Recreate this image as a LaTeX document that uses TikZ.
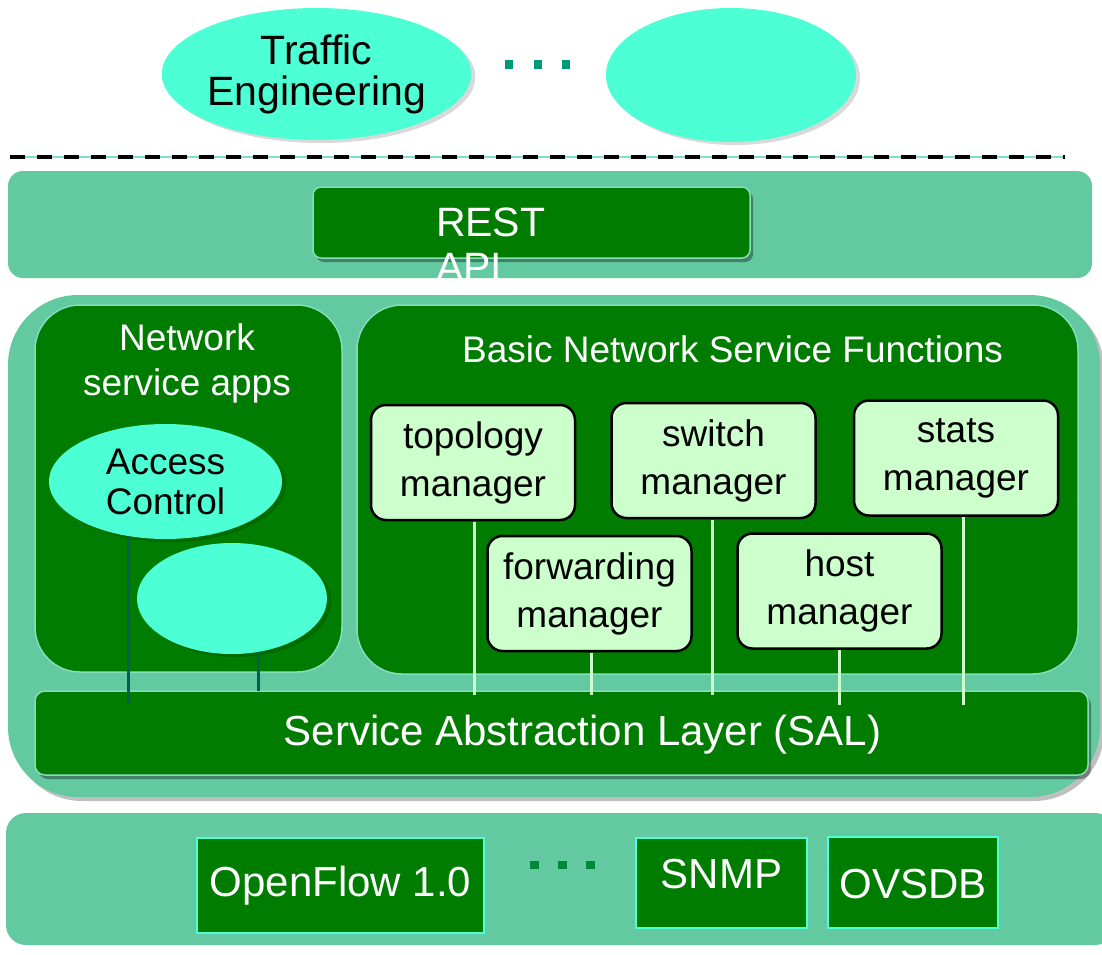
\documentclass[tikz,border=0pt]{standalone}
\usepackage{fontspec}
\setmainfont{Liberation Sans}
\usetikzlibrary{shapes.geometric,shadows,calc}
\definecolor{bandc}{HTML}{62C9A0}
\definecolor{dkgreen}{HTML}{007C00}
\definecolor{aquac}{HTML}{4DFFD4}
\definecolor{ltgreenc}{HTML}{CCFFCC}
\definecolor{lineteal}{HTML}{005F55}
\definecolor{dotteal}{HTML}{009977}
\definecolor{dotgreen}{HTML}{00883A}
\definecolor{edgelight}{HTML}{86DDBA}
\definecolor{dashbase}{HTML}{7FE0C8}
\begin{document}
\begin{tikzpicture}[x=1pt,y=-1pt,
  bandbox/.style={rectangle, fill=bandc, inner sep=0pt, outer sep=0pt},
  panel/.style={rectangle, rounded corners=45pt, fill=dkgreen, draw=edgelight, line width=1.5pt, inner sep=0pt, outer sep=0pt},
  greenbar/.style={rectangle, fill=dkgreen, draw=edgelight, line width=1.5pt, inner sep=0pt, outer sep=0pt,
     drop shadow={shadow xshift=3pt, shadow yshift=-4pt, opacity=0.35, fill=black}},
  appell/.style={ellipse, fill=aquac, inner sep=0pt, outer sep=0pt, align=center,
     drop shadow={shadow xshift=4pt, shadow yshift=-3pt, opacity=0.15, fill=black}},
  mgr/.style={rectangle, rounded corners=15pt, draw=black, line width=2.5pt, fill=ltgreenc,
     minimum width=204pt, minimum height=115pt, inner sep=0pt, outer sep=0pt, align=center,
     font=\fontsize{37}{48}\selectfont},
  mgrline/.style={draw=ltgreenc, line width=3pt},
  appline/.style={draw=lineteal, line width=3pt},
  proto/.style={rectangle, fill=dkgreen, draw=aquac, line width=2pt, text=white,
     font=\fontsize{42}{48}\selectfont, inner sep=0pt, outer sep=0pt},
  whitetxt/.style={text=white, inner sep=0pt, outer sep=0pt, align=center}
]
\useasboundingbox (0,0) rectangle (1102,954);
\clip (0,0) rectangle (1102,954);

% top applications
\node[appell, minimum width=307pt, minimum height=132pt, font=\fontsize{41}{41}\selectfont] (te) at (316.5,74) {Traffic\\Engineering};
\node[appell, minimum width=250pt, minimum height=134pt] (app3) at (731,75) {};
\fill[dotteal] (505,60) rectangle (513,69);
\fill[dotteal] (534,60) rectangle (542,69);
\fill[dotteal] (562,60) rectangle (570,69);

% dashed separator
\coordinate (dl) at (10,157);
\coordinate (dr) at (1065,157);
\draw[draw=dashbase, line width=1.2pt] (dl) -- (dr);
\draw[black, line width=3.8pt, dash pattern=on 15pt off 12pt] (dl) -- (dr);

% REST band
\node[bandbox, rounded corners=15pt, minimum width=1084pt, minimum height=107pt] (restband) at (550,224.5) {};
\node[greenbar, rounded corners=8pt, minimum width=437pt, minimum height=71pt] (rest) at (531.5,222.5) {};
\begin{scope}
  \clip[rounded corners=15pt] (8,171) rectangle (1092,278);
  \node[whitetxt, align=left, anchor=north west, font=\fontsize{41}{45}\selectfont] (resttxt) at (436,207.6) {REST\\API};
\end{scope}

% controller band
\node[bandbox, rounded corners=70pt, minimum width=1092pt, minimum height=502pt,
   drop shadow={shadow xshift=4pt, shadow yshift=-4pt, opacity=0.25, fill=black}] (ctrl) at (554,546) {};
\node[panel, minimum width=307pt, minimum height=367pt] (leftp) at (188.5,488.5) {};
\node[panel, minimum width=721pt, minimum height=369pt] (rightp) at (717.5,489.5) {};
\node[greenbar, rounded corners=10pt, minimum width=1053pt, minimum height=84pt] (sal) at (561.5,733) {};

\node[whitetxt, font=\fontsize{37}{45}\selectfont] (nsa) at (187,363.2) {Network\\service apps};
\node[whitetxt, font=\fontsize{37}{45}\selectfont] (bnsf) at (732.5,349.75) {Basic Network Service Functions};
\node[whitetxt, anchor=base, font=\fontsize{42}{48}\selectfont] (saltxt) at (582.5,745) {Service Abstraction Layer (SAL)};

% network service apps
\node[appell, minimum width=233pt, minimum height=115pt, font=\fontsize{37}{40}\selectfont] (ac) at (165.5,481.5) {Access\\Control};
\node[appell, minimum width=190pt, minimum height=111pt] (app2) at (232,598.5) {};

% managers
\node[mgr] (topo) at (473,462.5) {topology\\manager};
\node[mgr] (sw) at (713.5,460.5) {switch\\manager};
\node[mgr] (stats) at (956,458) {stats\\manager};
\node[mgr] (fwd) at (589.5,593.5) {forwarding\\manager};
\node[mgr] (host) at (839.5,591) {host\\manager};

% connectors to SAL
\coordinate (topoo) at ($(topo.south)+(1,0)$);
\coordinate (fwdo) at ($(fwd.south)+(1.5,0)$);
\coordinate (swo) at ($(sw.south)+(-1.5,0)$);
\coordinate (hosto) at ($(host.south)+(0,0)$);
\coordinate (statso) at ($(stats.south)+(7,0)$);
\draw[mgrline, shorten <=1.5pt, shorten >=-4pt] (topoo) -- (topoo |- sal.north);
\draw[mgrline, shorten <=1.5pt, shorten >=-4pt] (fwdo) -- (fwdo |- sal.north);
\draw[mgrline, shorten <=1.5pt, shorten >=-4pt] (swo) -- (swo |- sal.north);
\draw[mgrline, shorten <=1.5pt, shorten >=-14pt] (hosto) -- (hosto |- sal.north);
\draw[mgrline, shorten <=1.5pt, shorten >=-14pt] (statso) -- (statso |- sal.north);
\draw[appline, shorten >=-13pt] (ac.236) -- (ac.236 |- sal.north);
\draw[appline] (app2.296) -- (app2.296 |- sal.north);

% southbound band
\node[bandbox, rounded corners=20pt, minimum width=1109pt, minimum height=132pt] (south) at (560.5,879) {};
\node[proto, minimum width=287pt, minimum height=95pt] (of) at (340.5,885.5) {OpenFlow 1.0};
\node[proto, minimum width=171pt, minimum height=90pt, text height=30pt, text depth=20pt] (snmp) at (721.5,883) {SNMP};
\node[proto, minimum width=170pt, minimum height=91pt, text height=31pt, text depth=0pt] (ovsdb) at (913,882.5) {OVSDB};
\fill[dotgreen] (530,861) rectangle (539,869);
\fill[dotgreen] (558,861) rectangle (567,869);
\fill[dotgreen] (586,861) rectangle (595,869);
\end{tikzpicture}
\end{document}
